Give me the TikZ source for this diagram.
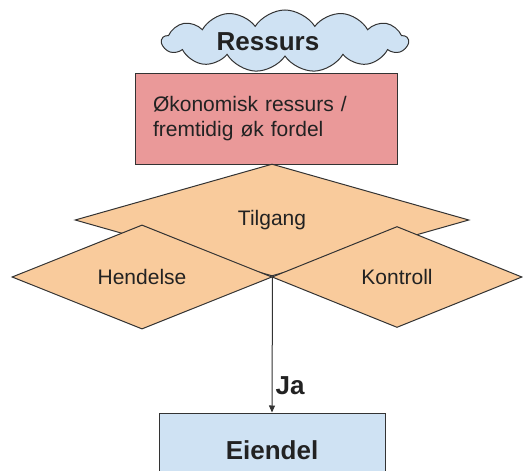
\documentclass[tikz,border=0pt]{standalone}
\usepackage{fontspec}
\setmainfont{Liberation Sans}
\usetikzlibrary{shapes.geometric,shapes.symbols,arrows.meta}
\definecolor{cloudblue}{HTML}{CFE2F3}
\definecolor{boxred}{HTML}{EA9999}
\definecolor{diaorange}{HTML}{F9CB9C}
\definecolor{edgegray}{HTML}{333333}
\definecolor{textgray}{HTML}{222222}

\begin{document}
\begin{tikzpicture}[
        x=1pt, y=-1pt,
        cloudnode/.style={
            cloud,
            cloud puffs=13,
            cloud puff arc=115,
            cloud ignores aspect,
            draw=edgegray,
            fill=cloudblue,
            line width=1pt,
            minimum width=246pt,
            minimum height=62pt,
            inner sep=0pt
        },
        redbox/.style={
            rectangle,
            draw=edgegray,
            fill=boxred,
            line width=1pt,
            align=left,
            text width=226pt,
            minimum height=91pt,
            inner sep=18pt,
            text=textgray,
            font=\fontsize{21}{25}\selectfont
        },
        decision/.style={
            diamond,
            draw=edgegray,
            fill=diaorange,
            line width=1pt,
            inner sep=0pt,
            text=textgray,
            font=\fontsize{21}{25}\selectfont
        },
        bluebox/.style={
            rectangle,
            draw=edgegray,
            fill=cloudblue,
            line width=1pt,
            minimum width=226pt,
            minimum height=74pt,
            text=textgray,
            font=\fontsize{26}{30}\selectfont\bfseries
        },
        boldtext/.style={
            text=textgray,
            font=\fontsize{26}{30}\selectfont\bfseries
        },
        arrow/.style={-{Triangle[length=7pt,width=6pt]}, line width=1pt, draw=edgegray}
    ]
        \useasboundingbox (0,0) rectangle (523,471);

        \node[redbox] (econ) at (266,118.5) {Økonomisk ressurs /\\fremtidig øk fordel};
        \node[cloudnode] (cloudres) at (285,41) {};
        \node[boldtext] (res) at (268,42) {Ressurs};

        \node[decision, minimum width=394pt, minimum height=112pt] (access) at (272,220) {Tilgang};
        \node[decision, minimum width=260pt, minimum height=101pt] (event) at (142,277) {Hendelse};
        \node[decision, minimum width=250pt, minimum height=101pt] (control) at (397,277) {Kontroll};

        \node[bluebox] (asset) at (272,450) {Eiendel};

        \draw[arrow] (event.east) -- (asset.north)
            node[boldtext, pos=0.8, anchor=west, inner sep=3pt] (yes) {Ja};

    \end{tikzpicture}
\end{document}
